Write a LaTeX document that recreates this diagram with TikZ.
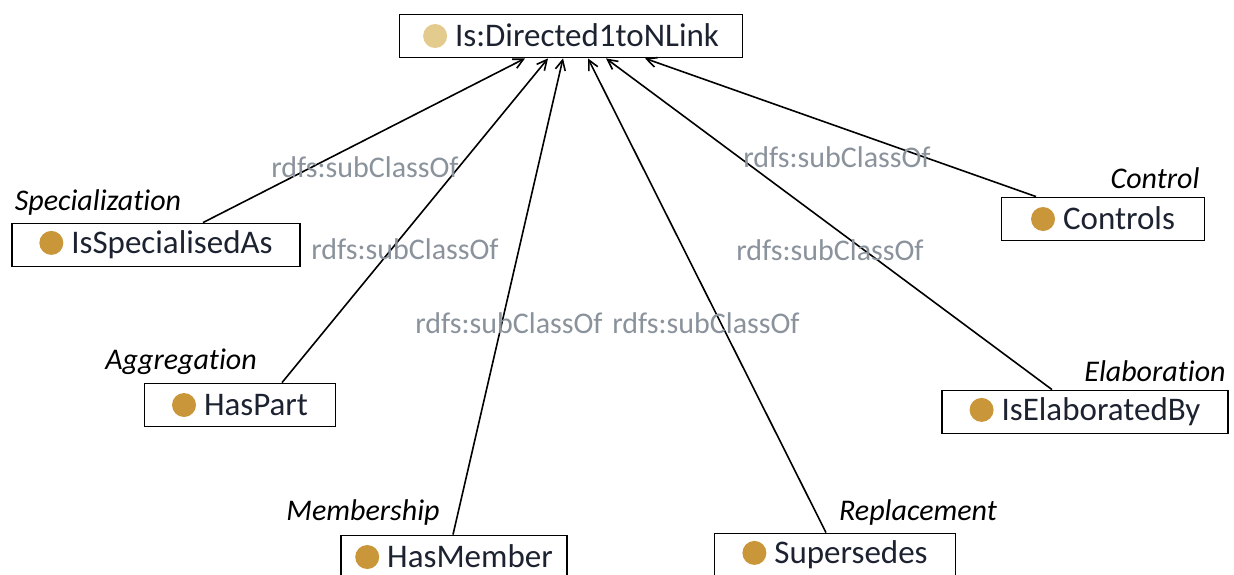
\documentclass[tikz,border=0pt]{standalone}
\usepackage{fontspec}
\setmainfont{Carlito}[Ligatures=NoCommon]
\usetikzlibrary{arrows.meta,positioning}
\definecolor{ballgold}{HTML}{C9973A}
\definecolor{balltan}{HTML}{E2CB8C}
\definecolor{reltext}{HTML}{8A929C}
\definecolor{boxtext}{HTML}{1C2230}
\newcommand{\ball}[1]{\tikz[baseline=-0.33em]\fill[#1] (0,0) circle (12pt);\hspace{8pt}}

\begin{document}
\begin{tikzpicture}[x=1pt, y=-1pt,
    >={Straight Barb[length=10pt,width=10pt]},
    cls/.style={draw, line width=1.8pt, minimum height=43, inner sep=0pt,
      font=\fontsize{33}{37}\selectfont, text=boxtext},
    role/.style={font=\fontsize{30}{34}\selectfont\itshape},
    rel/.style={text=reltext, font=\fontsize{30}{34}\selectfont},
    link/.style={->, line width=1.6pt}]
  \useasboundingbox (0,0) rectangle (1234,575);

  % classes
  \node[cls, minimum width=343] (top) at (571,36) {\ball{balltan}Is:Directed1toNLink};
  \node[cls, minimum width=288] (spec) at (156,245) {\ball{ballgold}IsSpecialisedAs};
  \node[cls, minimum width=203] (ctrl) at (1103,219) {\ball{ballgold}Controls};
  \node[cls, minimum width=191] (part) at (240,405) {\ball{ballgold}HasPart};
  \node[cls, minimum width=286] (elab) at (1085,412) {\ball{ballgold}IsElaboratedBy};
  \node[cls, minimum width=226] (member) at (454,557) {\ball{ballgold}HasMember};
  \node[cls, minimum width=241] (super) at (835,555) {\ball{ballgold}Supersedes};

  % relation kinds
  \node[role] (specR) at (98,203) {Specialization};
  \node[role] (ctrlR) at (1155,178) {Control};
  \node[role] (partR) at (181,362) {Aggregation};
  \node[role] (elabR) at (1155,371) {Elaboration};
  \node[role] (memberR) at (363,512) {Membership};
  \node[role] (superR) at (918,512) {Replacement};

  % subclass links
  \draw[link] ([xshift=47]spec.north) -- ([xshift=-46]top.south);
  \draw[link] ([xshift=42]part.north) -- ([xshift=-23]top.south);
  \draw[link] ([xshift=-1]member.north) -- ([xshift=-8]top.south);
  \draw[link] ([xshift=-9]super.north) -- ([xshift=17]top.south);
  \draw[link] ([xshift=-33]elab.north) -- ([xshift=35]top.south);
  \draw[link] ([xshift=-67]ctrl.north) -- ([xshift=74]top.south);

  \node[rel] (specL) at (365,167) {rdfs:subClassOf};
  \node[rel] (partL) at (405,249) {rdfs:subClassOf};
  \node[rel] (memberL) at (509,323) {rdfs:subClassOf};
  \node[rel] (superL) at (706,323) {rdfs:subClassOf};
  \node[rel] (elabL) at (830,250) {rdfs:subClassOf};
  \node[rel] (ctrlL) at (837,157) {rdfs:subClassOf};
\end{tikzpicture}
\end{document}
